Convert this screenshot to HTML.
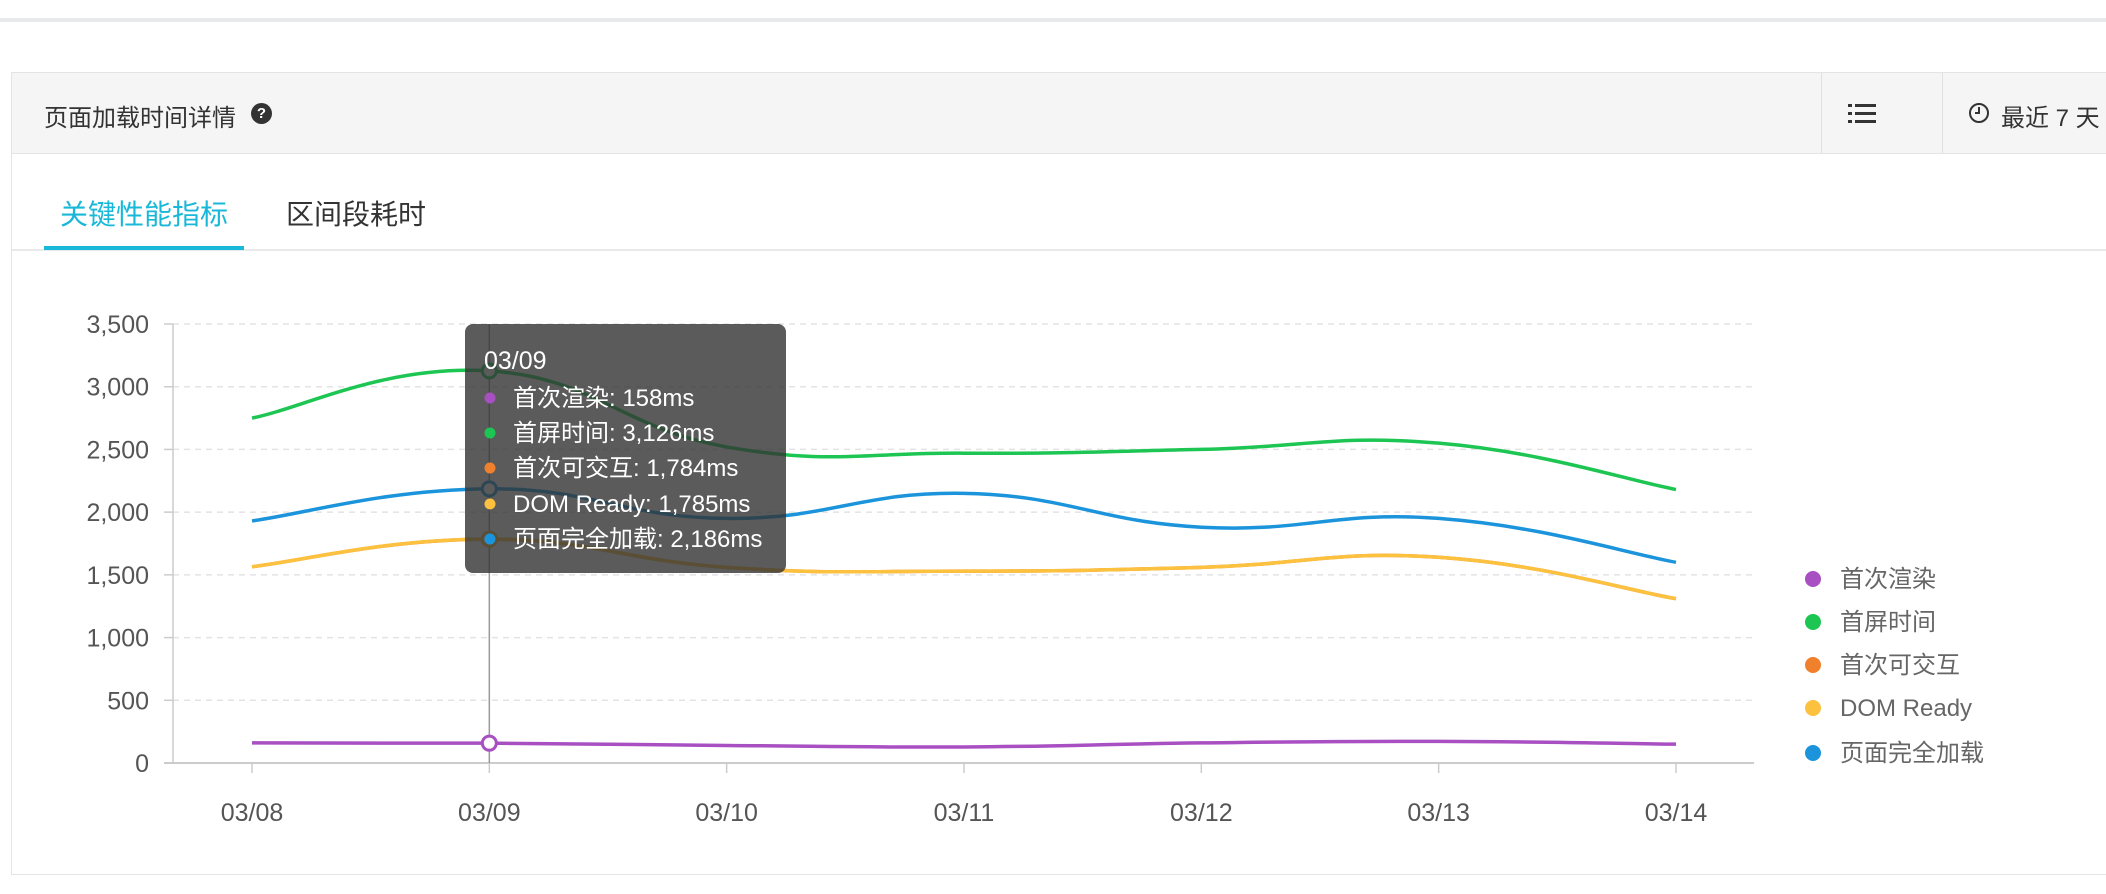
<!DOCTYPE html>
<html><head><meta charset="utf-8"><style>
body{margin:0;width:2106px;height:894px;background:#fff;position:relative;overflow:hidden;font-family:"Liberation Sans","Noto Sans CJK SC",sans-serif;}
.abs{position:absolute}
</style></head><body>
<div class="abs" style="left:0;top:18px;width:2106px;height:4px;background:#e8e9eb"></div>
<div class="abs" style="left:11px;top:72px;width:2100px;height:801px;border:1px solid #e4e4e4;border-right:none"></div>
<div class="abs" style="left:12px;top:73px;width:2100px;height:80px;background:#f5f5f5;border-bottom:1px solid #e4e4e4"></div>
<div class="abs" style="left:44px;top:98px;font-size:24px;color:#333">页面加载时间详情</div>
<div class="abs" style="left:251px;top:103px;width:21px;height:21px;border-radius:50%;background:#333;color:#fff;font-size:15px;font-weight:bold;text-align:center;line-height:21px">?</div>
<div class="abs" style="left:1821px;top:73px;width:1px;height:80px;background:#e0e0e0"></div>
<div class="abs" style="left:1942px;top:73px;width:1px;height:80px;background:#e0e0e0"></div>
<svg class="abs" style="left:1848px;top:103px" width="28" height="22"><g fill="#333"><rect x="0" y="1" width="4" height="3"/><rect x="7" y="1" width="21" height="3"/><rect x="0" y="9" width="4" height="3"/><rect x="7" y="9" width="21" height="3"/><rect x="0" y="17" width="4" height="3"/><rect x="7" y="17" width="21" height="3"/></g></svg>
<svg class="abs" style="left:1968px;top:102px" width="22" height="22"><circle cx="11" cy="11" r="9" fill="none" stroke="#333" stroke-width="2"/><path d="M11 5v6h-4" fill="none" stroke="#333" stroke-width="2"/></svg>
<div class="abs" style="left:2001px;top:98px;font-size:24px;color:#333;white-space:nowrap">最近 7 天</div>
<div class="abs" style="left:12px;top:249px;width:2100px;height:2px;background:#e8e9eb"></div>
<div class="abs" style="left:60px;top:193px;font-size:28px;color:#1ab8d8">关键性能指标</div>
<div class="abs" style="left:286px;top:193px;font-size:28px;color:#333">区间段耗时</div>
<div class="abs" style="left:44px;top:246px;width:200px;height:4px;background:#1ab8d8"></div>
<svg class="abs" style="left:0;top:0" width="2106" height="894" id="c"></svg>
<script>
var s=document.getElementById('c'),h='';
function Y(v){return 763-v*(439/3500)}
function X(i){return 252+i*237.33}
for(var k=0;k<=7;k++){var y=Y(k*500);
 if(k>0)h+='<line x1="173" x2="1754" y1="'+y+'" y2="'+y+'" stroke="#e3e3e3" stroke-dasharray="6,5" stroke-width="1.5"/>';
 h+='<text x="149" y="'+(y+9)+'" text-anchor="end" font-size="25" fill="#555">'+(k*500).toLocaleString('en-US')+'</text>';
 h+='<line x1="164" x2="173" y1="'+y+'" y2="'+y+'" stroke="#ccc" stroke-width="1.5"/>';}
h+='<line x1="173" x2="173" y1="324" y2="764" stroke="#ccc" stroke-width="1.5"/>';
h+='<line x1="164" x2="1754" y1="763" y2="763" stroke="#ccc" stroke-width="2"/>';
var lab=['03/08','03/09','03/10','03/11','03/12','03/13','03/14'];
for(var i=0;i<7;i++){h+='<line x1="'+X(i)+'" x2="'+X(i)+'" y1="763" y2="773" stroke="#ccc" stroke-width="1.5"/>';
 h+='<text x="'+X(i)+'" y="821" text-anchor="middle" font-size="25" fill="#555">'+lab[i]+'</text>';}
h+='<line x1="'+X(1)+'" x2="'+X(1)+'" y1="324" y2="763" stroke="#999" stroke-width="1.5"/>';
var D=[['#a84fc2',[160,158,140,128,160,172,150]],['#1dc552',[2750,3126,2520,2470,2500,2550,2180]],['#f0802c',[1565,1784,1560,1530,1560,1640,1310]],['#fbc13f',[1565,1785,1560,1530,1560,1640,1310]],['#1b94dc',[1930,2186,1950,2150,1880,1950,1600]]];
function path(v){var p=v.map(function(a,i){return[X(i),Y(a)]});var d='M'+p[0][0]+' '+p[0][1];
 for(var i=0;i<p.length-1;i++){var p0=p[Math.max(i-1,0)],p1=p[i],p2=p[i+1],p3=p[Math.min(i+2,p.length-1)],t=0.22;
 d+=' C'+(p1[0]+(p2[0]-p0[0])*t)+' '+(p1[1]+(p2[1]-p0[1])*t)+' '+(p2[0]-(p3[0]-p1[0])*t)+' '+(p2[1]-(p3[1]-p1[1])*t)+' '+p2[0]+' '+p2[1];}return d;}
D.forEach(function(d){h+='<path d="'+path(d[1])+'" fill="none" stroke="'+d[0]+'" stroke-width="3.5"/>';
 h+='<circle cx="'+X(1)+'" cy="'+Y(d[1][1])+'" r="7" fill="#fff" stroke="'+d[0]+'" stroke-width="3"/>';});
h+='<rect x="465" y="324" width="321" height="249" rx="8" fill="rgba(50,50,50,0.8)"/>';
h+='<text x="484" y="369" font-size="25" fill="#fff">03/09</text>';
var tt=['首次渲染: 158ms','首屏时间: 3,126ms','首次可交互: 1,784ms','DOM Ready: 1,785ms','页面完全加载: 2,186ms'];
var ty=[398,433,468,504,539];
var names=['首次渲染','首屏时间','首次可交互','DOM Ready','页面完全加载'],ly=[579,622,665,708,753];
for(var i=0;i<5;i++){h+='<circle cx="490" cy="'+ty[i]+'" r="5.5" fill="'+D[i][0]+'"/><text x="513" y="'+(ty[i]+8)+'" font-size="24" fill="#fff">'+tt[i]+'</text>';
 h+='<circle cx="1813" cy="'+ly[i]+'" r="8" fill="'+D[i][0]+'"/><text x="1840" y="'+(ly[i]+8)+'" font-size="24" fill="#666">'+names[i]+'</text>';}
s.innerHTML=h;
</script>
</body></html>
